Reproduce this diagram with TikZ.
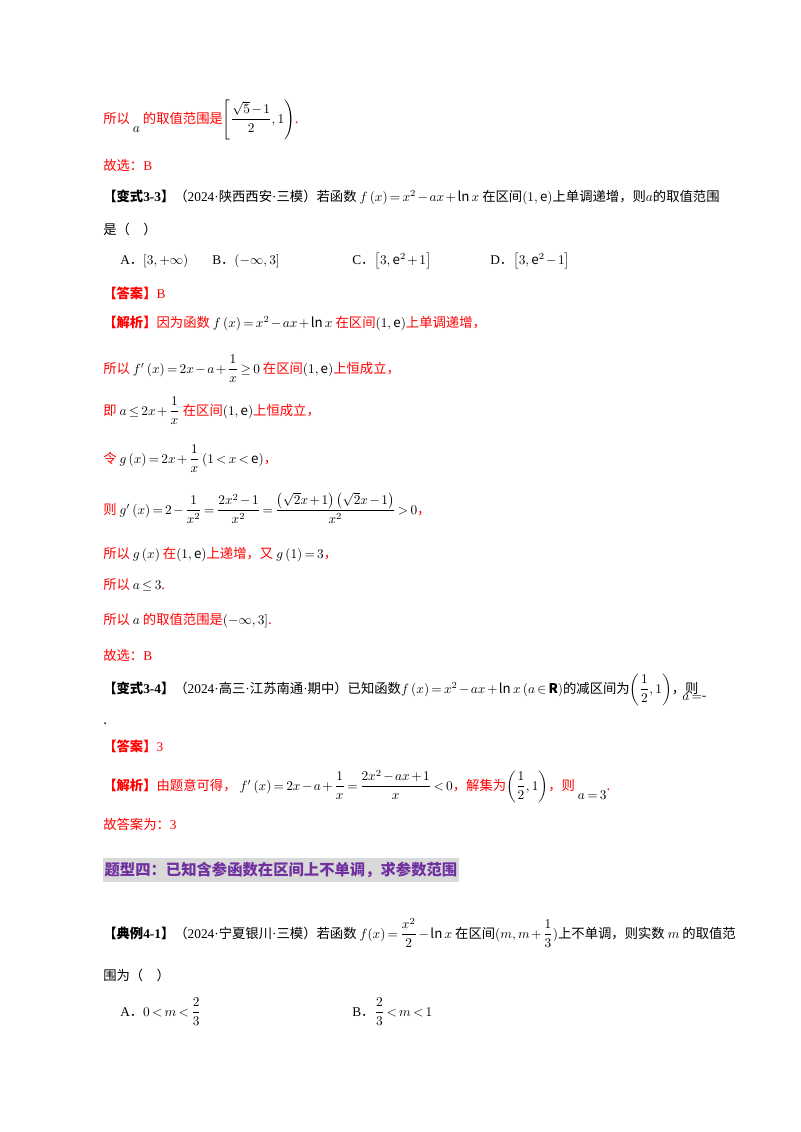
\documentclass[tikz,border=0pt]{standalone}
\usepackage{amsmath,amssymb}
\usepackage{fontspec}
\setmainfont{Noto Sans CJK SC}
\newfontfamily\tms{Liberation Serif}
\definecolor{rd}{HTML}{FF0000}
\definecolor{pu}{HTML}{7030A0}
\newcommand{\rr}[1]{\textcolor{rd}{#1}}
\newcommand{\tm}[1]{{\tms #1}}
\newcommand{\dt}{{\tms ·}}
\medmuskip=2mu plus 1mu minus 1mu
\thickmuskip=3mu plus 1mu minus 1mu
\tikzset{ln/.style={anchor=base west,inner sep=0pt,font=\fontsize{10}{12}\selectfont}}
\begin{document}
\begin{tikzpicture}[x=0.75pt,y=-0.75pt]
\useasboundingbox[fill=white] (0,0) rectangle (800,1132);
\node[ln] (l1) at (103,123) {\rr{所以} $\raisebox{-7pt}{$a$}$ \rr{的取值范围是}$\left[\dfrac{\sqrt5-1}{2},1\right)$\rr{.}};
\node[ln] (l2) at (103,170) {\rr{故选：\tm{B}}};
\node[ln] (l3) at (103,201) {\textbf{【变式\tm{3-3}】}（\tm{2024}\dt 陕西西安\dt 三模）若函数 $f\left(x\right)=x^2-ax+\ln x$ 在区间$\left(1,\mathrm{e}\right)$上单调递增，则$a$的取值范围};
\node[ln] (l4) at (103,234) {是（\quad）};
\node[ln] (a1) at (120,264) {\tm{A}．$\left[3,+\infty\right)$};
\node[ln] (b1) at (212,264) {\tm{B}．$\left(-\infty,3\right]$};
\node[ln] (c1) at (352,264) {\tm{C}．$\left[3,\mathrm{e}^2+1\right]$};
\node[ln] (d1) at (490,264) {\tm{D}．$\left[3,\mathrm{e}^2-1\right]$};
\node[ln] (l5) at (103,298) {\rr{\textbf{【答案】}\tm{B}}};
\node[ln] (l6) at (103,327) {\rr{\textbf{【解析】}因为函数} $f\left(x\right)=x^2-ax+\ln x$ \rr{在区间}$\left(1,\mathrm{e}\right)$\rr{上单调递增，}};
\node[ln] (l7) at (103,373) {\rr{所以} $f'\left(x\right)=2x-a+\dfrac1x\geq0$ \rr{在区间}$\left(1,\mathrm{e}\right)$\rr{上恒成立，}};
\node[ln] (l8) at (103,415) {\rr{即} $a\leq2x+\dfrac1x$ \rr{在区间}$\left(1,\mathrm{e}\right)$\rr{上恒成立，}};
\node[ln] (l9) at (103,463) {\rr{令} $g\left(x\right)=2x+\dfrac1x\left(1<x<\mathrm{e}\right)$\rr{，}};
\node[ln] (l10) at (103,514) {\rr{则} $g'\left(x\right)=2-\dfrac1{x^2}=\dfrac{2x^2-1}{x^2}=\dfrac{\left(\sqrt2x+1\right)\left(\sqrt2x-1\right)}{x^2}>0$\rr{，}};
\node[ln] (l11) at (103,558) {\rr{所以} $g\left(x\right)$ \rr{在}$\left(1,\mathrm{e}\right)$\rr{上递增，又} $g\left(1\right)=3$\rr{，}};
\node[ln] (l12) at (103,589) {\rr{所以} $a\leq3$\rr{.}};
\node[ln] (l13) at (103,624) {\rr{所以} $a$ \rr{的取值范围是}$\left(-\infty,3\right]$\rr{.}};
\node[ln] (l14) at (103,660) {\rr{故选：\tm{B}}};
\node[ln] (l15) at (103,693) {\textbf{【变式\tm{3-4}】}（\tm{2024}\dt 高三\dt 江苏南通\dt 期中）已知函数$f\left(x\right)=x^2-ax+\ln x\left(a\in\mathbf R\right)$的减区间为$\left(\dfrac12,1\right)$，则};
\node[ln] (l15b) at (682,700) {$a=$-};
\node[ln] (l16) at (103,724) {.};
\node[ln] (l17) at (103,751) {\rr{\textbf{【答案】}\tm{3}}};
\node[ln] (l18) at (103,790) {\rr{\textbf{【解析】}由题意可得，} $f'\left(x\right)=2x-a+\dfrac1x=\dfrac{2x^2-ax+1}{x}<0$\rr{，解集为}$\left(\dfrac12,1\right)$\rr{，则} $\raisebox{-7pt}{$a=3$}$\rr{.}};
\node[ln] (l19) at (103,829) {\rr{故答案为：\tm{3}}};
\node[anchor=west,fill=black!15,inner xsep=1pt,inner ysep=3pt,text=pu,font=\fontsize{11.5}{13}\selectfont\bfseries] (h) at (103,870) {题型四：已知含参函数在区间上不单调，求参数范围};
\node[ln] (l20) at (103,938) {\textbf{【典例\tm{4-1}】}（\tm{2024}\dt 宁夏银川\dt 三模）若函数 $f(x)=\dfrac{x^2}{2}-\ln x$ 在区间$(m,m+\dfrac13)$上不单调，则实数 $m$ 的取值范};
\node[ln] (l21) at (103,980) {围为（\quad）};
\node[ln] (a2) at (120,1016) {\tm{A}．$0<m<\dfrac23$};
\node[ln] (b2) at (352,1016) {\tm{B}．$\dfrac23<m<1$};
\end{tikzpicture}
\end{document}
